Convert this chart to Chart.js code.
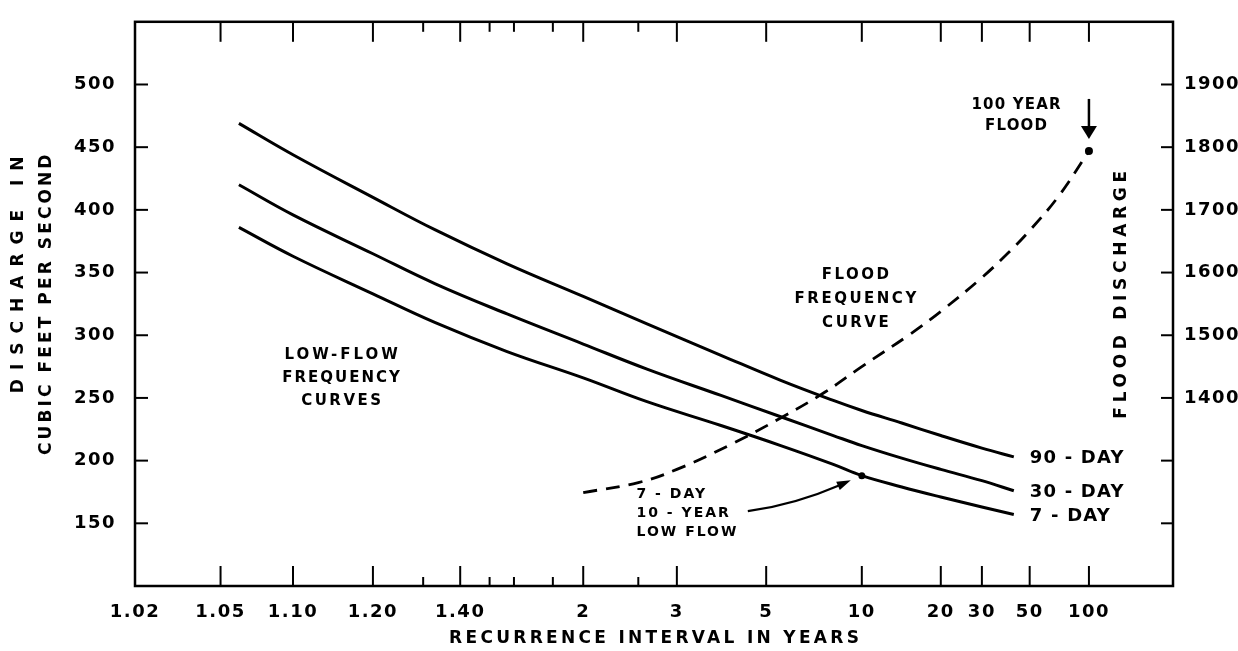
<!DOCTYPE html>
<html>
<head>
<meta charset="utf-8">
<script src="https://cdn.jsdelivr.net/npm/chart.js@4.4.1/dist/chart.umd.min.js"></script>
<style>
    body { margin: 0; background: #fff; }
    #frequencyChart { display: block; }
</style>
</head>
<body>
<canvas id="frequencyChart" width="1238" height="651"></canvas>
<script>
// recurrence intervals (years)
const recurrence = [1.06, 1.1, 1.2, 1.33, 1.57, 2, 2.6, 3.8, 5.5, 8, 10, 14, 20, 30, 42];
const day90 = [469, 444, 410, 384, 357, 331, 309, 284, 264, 248, 240, 230, 220, 210, 203];
const day30 = [420, 396, 365, 341, 317, 293, 273, 252, 235, 220, 212, 202, 193, 184, 176];
const day7 = [386, 363, 333, 310, 287, 266, 247, 228, 212, 197, 188, 179, 171, 163, 157];

// flood frequency curve (right axis)
const floodInterval = [2, 2.5, 3, 4, 5.5, 7.5, 10, 15, 20, 30, 40, 50, 70, 100];
const floodDischarge = [1249, 1265, 1286, 1325, 1368, 1409, 1450, 1501, 1538, 1592, 1633, 1667, 1723, 1794];

const xTickLabels = ['1.02', '1.05', '1.10', '1.20', '1.40', '2', '3', '5', '10', '20', '30', '50', '100'];
const xMinorTicks = [1.3, 1.5, 1.6, 1.8, 2.5];
const xRange = [1.02, 300];
const leftRange = [100, 550];
const rightRange = [1100, 2000];

// inverse normal CDF (Acklam) - the x axis is a normal probability scale
function probit(p) {
    const a = [-39.69683028665376, 220.9460984245205, -275.9285104469687, 138.3577518672690, -30.66479806614716, 2.506628277459239];
    const b = [-54.47609879822406, 161.5858368580409, -155.6989798598866, 66.80131188771972, -13.28068155833140];
    const c = [-0.007784894002430293, -0.3223964580411365, -2.400758277161838, -2.549732539343734, 4.374664141464968, 2.938163982698783];
    const d = [0.007784695709041462, 0.3224671290700398, 2.445134137142996, 3.754408661907416];
    const plow = 0.02425;
    if (p < plow) {
        const q = Math.sqrt(-2 * Math.log(p));
        return (((((c[0] * q + c[1]) * q + c[2]) * q + c[3]) * q + c[4]) * q + c[5]) / ((((d[0] * q + d[1]) * q + d[2]) * q + d[3]) * q + 1);
    }
    if (p > 1 - plow) {
        const q = Math.sqrt(-2 * Math.log(1 - p));
        return -(((((c[0] * q + c[1]) * q + c[2]) * q + c[3]) * q + c[4]) * q + c[5]) / ((((d[0] * q + d[1]) * q + d[2]) * q + d[3]) * q + 1);
    }
    const q = p - 0.5, r = q * q;
    return (((((a[0] * r + a[1]) * r + a[2]) * r + a[3]) * r + a[4]) * r + a[5]) * q / (((((b[0] * r + b[1]) * r + b[2]) * r + b[3]) * r + b[4]) * r + 1);
}
const toZ = T => probit(1 - 1 / T);

const FONT = '"DejaVu Sans", Verdana, sans-serif';

function text(ctx, str, x, y, size, spacing, align) {
    ctx.font = 'bold ' + size + 'px ' + FONT;
    ctx.letterSpacing = spacing + 'px';
    ctx.textAlign = align || 'center';
    ctx.textBaseline = 'middle';
    let dx = 0;
    if (ctx.textAlign === 'center') dx = spacing / 2;
    if (ctx.textAlign === 'right') dx = spacing;
    ctx.fillText(str, x + dx, y);
}

function rotatedText(ctx, str, x, y, size, spacing) {
    ctx.save();
    ctx.translate(x, y);
    ctx.rotate(-Math.PI / 2);
    text(ctx, str, 0, 0, size, spacing, 'center');
    ctx.restore();
}

function line(ctx, x1, y1, x2, y2) {
    ctx.beginPath();
    ctx.moveTo(x1, y1);
    ctx.lineTo(x2, y2);
    ctx.stroke();
}

const frameAndNotes = {
    id: 'frameAndNotes',
    beforeDraw(chart) {
        chart.ctx.letterSpacing = '1.5px';
    },
    afterDraw(chart) {
        const { ctx, chartArea: a } = chart;
        const x = chart.scales.x, y = chart.scales.y, y2 = chart.scales.y2;
        const px = T => x.getPixelForValue(toZ(T));
        ctx.save();
        ctx.strokeStyle = '#000';
        ctx.fillStyle = '#000';
        ctx.lineCap = 'butt';

        // frame
        ctx.lineWidth = 2.5;
        ctx.strokeRect(a.left, a.top, a.right - a.left, a.bottom - a.top);

        // inward tick marks
        ctx.lineWidth = 2;
        xTickLabels.slice(1).forEach(l => {
            const p = px(parseFloat(l));
            line(ctx, p, a.bottom, p, a.bottom - 20);
            line(ctx, p, a.top, p, a.top + 20);
        });
        xMinorTicks.forEach(T => {
            const p = px(T);
            line(ctx, p, a.bottom, p, a.bottom - 9);
            line(ctx, p, a.top, p, a.top + 10);
        });
        y.ticks.forEach(t => {
            if (t.value <= y.min || t.value >= y.max) return;
            const p = y.getPixelForValue(t.value);
            line(ctx, a.left, p, a.left + 13, p);
        });
        y2.ticks.forEach(t => {
            if (t.value <= y2.min || t.value >= y2.max) return;
            const p = y2.getPixelForValue(t.value);
            line(ctx, a.right - 12, p, a.right, p);
        });

        // axis titles
        text(ctx, 'RECURRENCE INTERVAL IN YEARS', (a.left + a.right) / 2, a.bottom + 53, 17, 3.3);
        rotatedText(ctx, 'DISCHARGE IN', a.left - 116, a.top + 253, 17, 9);
        rotatedText(ctx, 'CUBIC FEET PER SECOND', a.left - 88, a.top + 283, 17, 3.1);
        rotatedText(ctx, 'FLOOD DISCHARGE', a.right - 51, a.top + 273, 17, 4.7);

        // curve labels just right of each curve end
        const last = recurrence.length - 1;
        [[day90, '90 - DAY'], [day30, '30 - DAY'], [day7, '7 - DAY']].forEach(([vals, label]) => {
            text(ctx, label, px(recurrence[last]) + 16, y.getPixelForValue(vals[last]) + 1.5, 18, 1.2, 'left');
        });

        // low-flow note
        let cx = px(1.153), cy = y.getPixelForValue(266);
        text(ctx, 'LOW-FLOW', cx, cy - 23, 15, 3);
        text(ctx, 'FREQUENCY', cx, cy, 15, 2);
        text(ctx, 'CURVES', cx, cy + 23, 15, 2.5);

        // flood frequency note
        cx = px(9.5); cy = y.getPixelForValue(329);
        text(ctx, 'FLOOD', cx, cy - 24, 15, 2.5);
        text(ctx, 'FREQUENCY', cx, cy, 15, 2.5);
        text(ctx, 'CURVE', cx, cy + 24, 15, 2.5);

        // 100 year flood note with arrow
        const fx = px(100), fy = y2.getPixelForValue(floodDischarge[floodDischarge.length - 1]);
        cx = px(43); cy = y.getPixelForValue(475);
        text(ctx, '100 YEAR', cx, cy - 10.5, 15, 1.2);
        text(ctx, 'FLOOD', cx, cy + 10.5, 15, 1.2);
        ctx.lineWidth = 2.5;
        line(ctx, fx, fy - 52, fx, fy - 22);
        ctx.beginPath();
        ctx.moveTo(fx - 8, fy - 25);
        ctx.lineTo(fx + 8, fy - 25);
        ctx.lineTo(fx, fy - 12);
        ctx.closePath();
        ctx.fill();

        // 7-day 10-year low flow note with curved arrow
        cx = px(2.48); cy = y.getPixelForValue(173);
        text(ctx, '7 - DAY', cx, cy, 14, 2, 'left');
        text(ctx, '10 - YEAR', cx, cy + 19, 14, 2, 'left');
        text(ctx, 'LOW FLOW', cx, cy + 38, 14, 2, 'left');
        const dx = px(10), dy = y.getPixelForValue(day7[recurrence.indexOf(10)]);
        const sx = dx - 114, sy = dy + 35.5, qx = dx - 67, qy = dy + 29, tx = dx - 11, ty = dy + 4.5;
        ctx.lineWidth = 2.2;
        ctx.beginPath();
        ctx.moveTo(sx, sy);
        ctx.quadraticCurveTo(qx, qy, tx - 10, ty + 4.5);
        ctx.stroke();
        const ang = Math.atan2(ty - qy, tx - qx);
        ctx.beginPath();
        ctx.moveTo(tx, ty);
        ctx.lineTo(tx - 14 * Math.cos(ang) + 4.5 * Math.sin(ang), ty - 14 * Math.sin(ang) - 4.5 * Math.cos(ang));
        ctx.lineTo(tx - 14 * Math.cos(ang) - 4.5 * Math.sin(ang), ty - 14 * Math.sin(ang) + 4.5 * Math.cos(ang));
        ctx.closePath();
        ctx.fill();
        ctx.restore();
    }
};

const lowFlow = (vals) => recurrence.map((T, i) => ({ x: toZ(T), y: vals[i] }));
const curveStyle = {
    yAxisID: 'y',
    borderColor: '#000',
    borderWidth: 3,
    pointRadius: 0,
    fill: false,
    tension: 0.4
};

const ctx = document.getElementById('frequencyChart').getContext('2d');

let frequencyChart = new Chart(ctx, {
    type: 'line',
    data: {
        datasets: [
            Object.assign({ label: '90-day', data: lowFlow(day90) }, curveStyle),
            Object.assign({ label: '30-day', data: lowFlow(day30) }, curveStyle),
            Object.assign({ label: '7-day', data: lowFlow(day7) }, curveStyle, {
                pointRadius: recurrence.map(T => T === 10 ? 3.5 : 0),
                pointBackgroundColor: '#000',
                pointBorderWidth: 0
            }),
            {
                label: 'Flood frequency',
                data: floodInterval.map((T, i) => ({ x: toZ(T), y: floodDischarge[i] })),
                yAxisID: 'y2',
                borderColor: '#000',
                borderWidth: 2.8,
                borderDash: [14, 9],
                fill: false,
                tension: 0.4,
                pointRadius: floodInterval.map(T => T === 100 ? 4 : 0),
                pointBackgroundColor: '#000',
                pointBorderWidth: 0
            }
        ]
    },
    options: {
        responsive: false,
        animation: false,
        devicePixelRatio: 1,
        layout: { padding: { top: 11, left: 0, right: 0, bottom: 0 } },
        plugins: {
            legend: { display: false },
            tooltip: { enabled: false }
        },
        scales: {
            x: {
                type: 'linear',
                min: toZ(xRange[0]),
                max: toZ(xRange[1]),
                afterBuildTicks: scale => {
                    scale.ticks = xTickLabels.map(l => ({ value: toZ(parseFloat(l)) }));
                },
                afterFit: scale => { scale.height = 65; },
                grid: { display: false },
                border: { display: false },
                ticks: {
                    autoSkip: false,
                    maxRotation: 0,
                    padding: 8,
                    color: '#000',
                    font: { family: FONT, size: 18, weight: 'bold' },
                    callback: (v, i) => xTickLabels[i]
                }
            },
            y: {
                position: 'left',
                min: leftRange[0],
                max: leftRange[1],
                afterFit: scale => { scale.width = 135; },
                grid: { display: false },
                border: { display: false },
                ticks: {
                    stepSize: 50,
                    padding: 11,
                    color: '#000',
                    font: { family: FONT, size: 18, weight: 'bold' },
                    callback: v => (v > leftRange[0] && v < leftRange[1]) ? v : ''
                }
            },
            y2: {
                position: 'right',
                min: rightRange[0],
                max: rightRange[1],
                afterFit: scale => { scale.width = 65; },
                grid: { display: false },
                border: { display: false },
                ticks: {
                    stepSize: 100,
                    padding: 3,
                    color: '#000',
                    font: { family: FONT, size: 18, weight: 'bold' },
                    callback: v => (v >= 1400 && v <= 1900) ? v : ''
                }
            }
        }
    },
    plugins: [frameAndNotes]
});
</script>
</body>
</html>
